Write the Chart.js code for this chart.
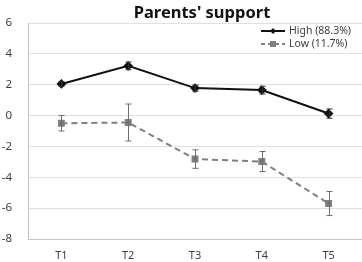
<!DOCTYPE html>
<html>
<head>
<meta charset="utf-8">
<script src="https://cdn.jsdelivr.net/npm/chart.js@4/dist/chart.umd.min.js"></script>
<style>
html,body{margin:0;padding:0;background:#fff;}
#wrap{position:relative;width:362px;height:262px;}
#title{position:absolute;left:122px;top:0px;width:160px;text-align:center;font:bold 16.5px "Noto Sans",sans-serif;color:#111;white-space:nowrap;}
</style>
</head>
<body>
<div id="wrap">
<canvas id="c"></canvas>
<div id="title">Parents' support</div>
</div>
<script>
const categories = ['T1','T2','T3','T4','T5'];
const highLabel = 'High (88.3%)';
const lowLabel = 'Low (11.7%)';
const highValues = [2.05, 3.22, 1.78, 1.65, 0.13];
const highErrors = [0.15, 0.25, 0.2, 0.25, 0.3];
const lowValues = [-0.5, -0.45, -2.82, -2.98, -5.7];
const lowErrors = [0.5, 1.2, 0.6, 0.65, 0.78];
const yMin = -8, yMax = 6, yStep = 2;

const errors = [highErrors, lowErrors];
const errColors = ['#333333', '#6e6e6e'];

const errorBarPlugin = {
  id: 'errorBars',
  afterDatasetsDraw(chart) {
    const ctx = chart.ctx;
    const ys = chart.scales.y;
    chart.data.datasets.forEach((ds, i) => {
      const meta = chart.getDatasetMeta(i);
      ctx.save();
      ctx.strokeStyle = errColors[i];
      ctx.lineWidth = 1;
      meta.data.forEach((pt, j) => {
        const v = ds.data[j], e = errors[i][j];
        const x = Math.round(pt.x) + 0.5;
        const t = ys.getPixelForValue(v + e);
        const b = ys.getPixelForValue(v - e);
        ctx.beginPath();
        ctx.moveTo(x, t); ctx.lineTo(x, b);
        ctx.moveTo(x - 3, t); ctx.lineTo(x + 3, t);
        ctx.moveTo(x - 3, b); ctx.lineTo(x + 3, b);
        ctx.stroke();
      });
      ctx.restore();
    });
  }
};

const legendPlugin = {
  id: 'insideLegend',
  afterDraw(chart) {
    const ctx = chart.ctx;
    const ca = chart.chartArea;
    const x0 = ca.right - 101;
    const rows = [
      {y: 31, label: highLabel, color: '#111', dash: [], mk: 'diamond'},
      {y: 44, label: lowLabel, color: '#808080', dash: [4, 3], mk: 'square'}
    ];
    ctx.save();
    rows.forEach(r => {
      ctx.strokeStyle = r.color;
      ctx.lineWidth = 2;
      ctx.setLineDash(r.dash);
      ctx.beginPath();
      ctx.moveTo(x0, r.y); ctx.lineTo(x0 + 24, r.y);
      ctx.stroke();
      ctx.setLineDash([]);
      ctx.fillStyle = r.color;
      const mx = x0 + 12;
      if (r.mk === 'diamond') {
        ctx.beginPath();
        ctx.moveTo(mx, r.y - 3); ctx.lineTo(mx + 3, r.y); ctx.lineTo(mx, r.y + 3); ctx.lineTo(mx - 3, r.y);
        ctx.closePath(); ctx.fill();
      } else {
        ctx.fillRect(mx - 3, r.y - 3, 6, 6);
      }
      ctx.fillStyle = '#404040';
      ctx.font = '10.5px "Noto Sans", sans-serif';
      ctx.textBaseline = 'middle';
      ctx.textAlign = 'left';
      ctx.fillText(r.label, x0 + 28, r.y);
    });
    ctx.restore();
  }
};

new Chart(document.getElementById('c'), {
  type: 'line',
  data: {
    labels: categories,
    datasets: [
      {
        label: highLabel,
        data: highValues,
        borderColor: '#111111',
        backgroundColor: '#111111',
        borderWidth: 2,
        pointStyle: 'rectRot',
        pointRadius: 3.5,
        pointHoverRadius: 3.5,
        tension: 0
      },
      {
        label: lowLabel,
        data: lowValues,
        borderColor: '#808080',
        backgroundColor: '#707070',
        borderWidth: 2,
        borderDash: [6, 4],
        pointStyle: 'rect',
        pointRadius: 3.5,
        pointHoverRadius: 3.5,
        tension: 0
      }
    ]
  },
  options: {
    responsive: true,
    maintainAspectRatio: false,
    animation: false,
    layout: {autoPadding: false, padding: {top: 23, right: 0, bottom: 0, left: 0}},
    plugins: {
      legend: {display: false},
      title: {display: false},
      tooltip: {enabled: false}
    },
    scales: {
      x: {
        offset: true,
        afterFit(scale) { scale.height = 23; scale.paddingRight = 0; scale.paddingLeft = 0; },
        grid: {display: false, drawTicks: false},
        border: {display: true, color: '#c4c4c4', width: 1},
        ticks: {color: '#404040', font: {family: 'Noto Sans', size: 11}, padding: 10}
      },
      y: {
        min: yMin, max: yMax,
        afterFit(scale) { scale.width = 28; scale.paddingTop = 0; scale.paddingBottom = 0; },
        grid: {color: '#e0e0e0', drawTicks: false},
        border: {display: true, color: '#c4c4c4', width: 1},
        ticks: {stepSize: yStep, color: '#404040', font: {family: 'Noto Sans', size: 11.5}, padding: 16}
      }
    }
  },
  plugins: [errorBarPlugin, legendPlugin]
});
</script>
</body>
</html>
